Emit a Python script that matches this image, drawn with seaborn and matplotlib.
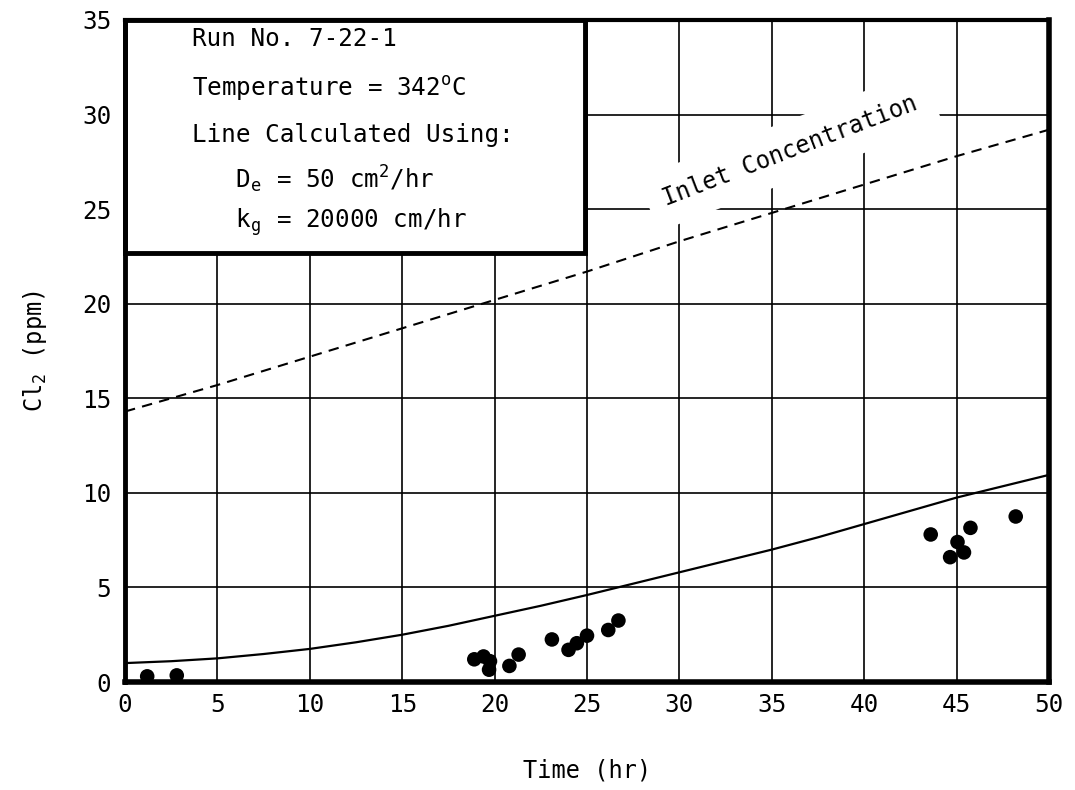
import matplotlib
matplotlib.use("Agg")
import matplotlib.pyplot as plt
import seaborn as sns
import pandas as pd
from matplotlib.patches import Rectangle

# ---- data ----
obs_time = [1.2, 2.8, 18.9, 19.4, 19.75, 19.7, 20.8, 21.3, 23.1, 24.0, 24.45, 25.0,
            26.15, 26.7, 43.6, 44.65, 45.05, 45.4, 45.75, 48.2]
obs_cl2 = [0.3, 0.35, 1.2, 1.35, 1.1, 0.65, 0.85, 1.45, 2.25, 1.7, 2.05, 2.45,
           2.75, 3.25, 7.8, 6.6, 7.4, 6.85, 8.15, 8.75]

calc_time = [0, 2.5, 5, 7.5, 10, 12.5, 15, 17.5, 20, 22.5, 25, 27.5, 30, 32.5,
             35, 37.5, 40, 42.5, 45, 47.5, 50]
calc_cl2 = [1.0, 1.1, 1.25, 1.48, 1.75, 2.1, 2.5, 2.97, 3.5, 4.03, 4.6, 5.2,
            5.8, 6.4, 7.0, 7.65, 8.35, 9.05, 9.75, 10.35, 10.95]

inlet_time = [0, 5, 10, 15, 20, 25, 30, 35, 40, 45, 50]
inlet_cl2 = [14.3, 15.7, 17.2, 18.7, 20.2, 21.7, 23.3, 24.8, 26.3, 27.8, 29.2]

x_ticks = [0, 5, 10, 15, 20, 25, 30, 35, 40, 45, 50]
y_ticks = [0, 5, 10, 15, 20, 25, 30, 35]

info_lines = ["Run No. 7-22-1",
              "Temperature = 342$^{\\rm o}$C",
              "Line Calculated Using:",
              "   D$_{\\rm e}$ = 50 cm$^{\\rm 2}$/hr",
              "   k$_{\\rm g}$ = 20000 cm/hr"]

sns.set_theme(style="white")
plt.rcParams['font.family'] = ['DejaVu Sans Mono', 'DejaVu Sans']
plt.rcParams['mathtext.fontset'] = 'custom'
plt.rcParams['mathtext.rm'] = 'DejaVu Sans Mono'
plt.rcParams['mathtext.it'] = 'DejaVu Sans Mono'
plt.rcParams['mathtext.bf'] = 'DejaVu Sans Mono:bold'

fig = plt.figure(figsize=(10.75, 7.90), dpi=100)
ax = fig.add_axes([0.1163, 0.1367, 0.9758 - 0.1163, 0.9747 - 0.1367])

df_obs = pd.DataFrame({"t": obs_time, "c": obs_cl2})
df_calc = pd.DataFrame({"t": calc_time, "c": calc_cl2})
df_in = pd.DataFrame({"t": inlet_time, "c": inlet_cl2})

sns.lineplot(data=df_calc, x="t", y="c", ax=ax, color="black", lw=1.6, zorder=4)
sns.lineplot(data=df_in, x="t", y="c", ax=ax, color="black", lw=1.5, zorder=4,
             linestyle=(0, (5, 3.5)))
sns.scatterplot(data=df_obs, x="t", y="c", ax=ax, color="black", s=110,
                edgecolor="none", zorder=4)

ax.set_xlim(0, 50)
ax.set_ylim(0, 35)
ax.set_xticks(x_ticks)
ax.set_yticks(y_ticks)
ax.set_xticklabels([str(v) for v in x_ticks])
ax.set_yticklabels([str(v) for v in y_ticks])
ax.tick_params(axis="both", length=0, labelsize=17.5, colors="black")
ax.tick_params(axis="x", pad=8)
ax.tick_params(axis="y", pad=10)

ax.grid(True, color="black", lw=1.2)
ax.set_axisbelow(True)
for side, lw in [("left", 3.5), ("bottom", 4.0), ("right", 4.0), ("top", 3.0)]:
    ax.spines[side].set_visible(True)
    ax.spines[side].set_linewidth(lw)
    ax.spines[side].set_color("black")
    ax.spines[side].set_zorder(6)

ax.set_xlabel("Time (hr)", fontsize=17, labelpad=30, color="black")
ax.set_ylabel("Cl$_{\\rm 2}$ (ppm)", fontsize=17, labelpad=24, color="black")

# info box (white, covering the grid)
box = Rectangle((0, 22.7), 24.9, 12.3, facecolor="white", edgecolor="black",
                lw=3.5, zorder=5, transform=ax.transData, clip_on=False)
ax.add_patch(box)
line_y = [34.0, 31.4, 28.9, 26.6, 24.3]
for txt, yy in zip(info_lines, line_y):
    ax.text(3.65, yy, txt, fontsize=17.5, ha="left", va="center", zorder=6,
            color="black")

ax.text(36.0, 28.1, "Inlet Concentration", fontsize=17, rotation=21,
        ha="center", va="center", zorder=3, color="black",
        bbox=dict(facecolor="white", edgecolor="none", pad=12))

fig.savefig("out.png", dpi=100)
